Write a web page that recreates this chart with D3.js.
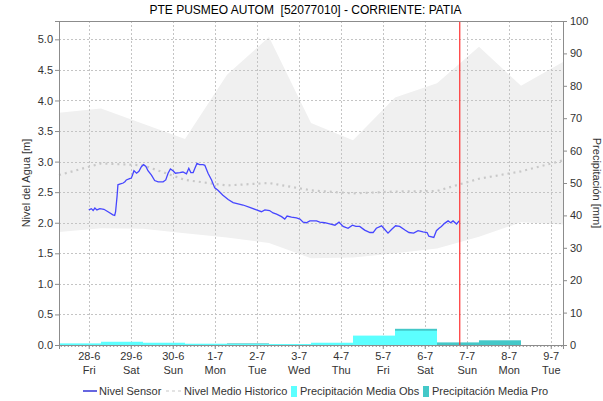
<!DOCTYPE html>
<html>
<head>
<meta charset="utf-8">
<script src="https://cdn.jsdelivr.net/npm/d3@7"></script>
<style>
body { margin: 0; background: #fff; }
svg { font-family: "Liberation Sans", Arial, sans-serif; }
</style>
</head>
<body>
<div id="chart"></div>
<script>
// historico diario (a las 07:00)
var diasHist = ["2024-06-27", "2024-06-28", "2024-06-29", "2024-06-30", "2024-07-01", "2024-07-02",
    "2024-07-03", "2024-07-04", "2024-07-05", "2024-07-06", "2024-07-07", "2024-07-08", "2024-07-09"];
var histMax = [3.80, 3.87, 3.62, 3.37, 4.42, 5.04, 3.63, 3.35, 4.05, 4.28, 4.88, 4.24, 4.63];
var histMin = [1.85, 1.91, 1.90, 1.83, 1.76, 1.67, 1.42, 1.43, 1.50, 1.58, 1.77, 2.01, 1.97];
var histMedio = [2.78, 2.97, 2.94, 2.70, 2.61, 2.65, 2.53, 2.48, 2.51, 2.52, 2.72, 2.84, 3.02];

// precipitacion diaria (07:00 a 07:00), mm
var precipObs = [0.5, 1.0, 0.7, 0.4, 0.3, 0.3, 0.7, 2.9, 4.4, null, null, null];
var precipPro = [null, null, null, null, 0.5, null, null, null, 5.0, 0.8, 1.45, null];

// nivel sensor
var sensorHora = [
    "06-28 00:00", "06-28 01:30", "06-28 02:30", "06-28 03:30", "06-28 04:40", "06-28 06:20",
    "06-28 08:40", "06-28 11:00", "06-28 13:50", "06-28 14:50", "06-28 15:20", "06-28 16:10",
    "06-28 16:40", "06-28 17:40", "06-28 19:40", "06-28 20:40", "06-28 21:30", "06-28 23:20",
    "06-29 00:20", "06-29 01:00", "06-29 01:50", "06-29 03:20", "06-29 04:40", "06-29 06:10",
    "06-29 07:20", "06-29 08:40", "06-29 09:50", "06-29 11:50", "06-29 13:40", "06-29 15:40",
    "06-29 18:30", "06-29 20:00", "06-29 21:20", "06-29 22:40", "06-30 00:10", "06-30 01:30",
    "06-30 04:00", "06-30 05:50", "06-30 07:50", "06-30 09:10", "06-30 10:20", "06-30 11:40",
    "06-30 12:40", "06-30 13:50", "06-30 15:20", "06-30 17:20", "06-30 18:20", "06-30 20:10",
    "06-30 22:10", "07-01 00:00", "07-01 01:50", "07-01 04:40", "07-01 07:40", "07-01 10:30",
    "07-01 13:20", "07-01 16:10", "07-01 20:00", "07-01 23:50", "07-02 02:40", "07-02 04:40",
    "07-02 07:20", "07-02 09:20", "07-02 11:20", "07-02 14:10", "07-02 16:00", "07-02 17:20",
    "07-02 19:50", "07-02 22:40", "07-03 00:40", "07-03 02:30", "07-03 04:20", "07-03 06:20",
    "07-03 10:10", "07-03 12:00", "07-03 14:50", "07-03 17:40", "07-03 20:40", "07-03 23:00",
    "07-04 01:20", "07-04 04:10", "07-04 06:40", "07-04 08:40", "07-04 10:50", "07-04 13:40",
    "07-04 16:40", "07-04 18:30", "07-04 20:20", "07-04 23:20", "07-05 01:10", "07-05 03:00",
    "07-05 05:00", "07-05 07:20", "07-05 09:40", "07-05 12:40", "07-05 15:00", "07-05 17:40",
    "07-05 20:10", "07-05 23:00", "07-06 01:20", "07-06 02:20", "07-06 05:10", "07-06 06:40",
    "07-06 08:10", "07-06 09:30", "07-06 11:20", "07-06 13:20", "07-06 14:50", "07-06 16:10",
    "07-06 18:10", "07-06 19:40"];
var sensorNivel = [
    2.21, 2.23, 2.20, 2.24, 2.21, 2.23,
    2.22, 2.18, 2.13, 2.12, 2.18, 2.43,
    2.62, 2.63, 2.65, 2.67, 2.70, 2.72,
    2.73, 2.78, 2.85, 2.81, 2.84, 2.92,
    2.95, 2.92, 2.85, 2.78, 2.69, 2.67,
    2.67, 2.70, 2.81, 2.88, 2.85, 2.81,
    2.82, 2.83, 2.80, 2.89, 2.82, 2.82,
    2.89, 2.97, 2.95, 2.95, 2.94, 2.81,
    2.70, 2.57, 2.53, 2.45, 2.38, 2.33,
    2.31, 2.29, 2.25, 2.21, 2.18, 2.21,
    2.20, 2.16, 2.14, 2.10, 2.06, 2.11,
    2.09, 2.08, 2.06, 2.01, 2.00, 2.03,
    2.03, 2.01, 2.00, 1.98, 1.96, 2.01,
    1.94, 1.91, 1.96, 1.94, 1.94, 1.88,
    1.84, 1.84, 1.91, 1.95, 1.89, 1.83,
    1.89, 1.95, 1.94, 1.88, 1.84, 1.83,
    1.87, 1.85, 1.84, 1.78, 1.76, 1.87,
    1.91, 1.94, 1.99, 2.03, 2.00, 2.03,
    1.98, 2.03];

var ahora = "2024-07-06 20:00";
var titulo = "PTE PUSMEO AUTOM  [52077010] - CORRIENTE: PATIA";

var width = 603, height = 401;
var margin = {top: 21, right: 40, bottom: 56, left: 59};
var w = width - margin.left - margin.right;
var h = height - margin.top - margin.bottom;

var parseDia = d3.timeParse("%Y-%m-%d %H:%M");
var parseHora = d3.timeParse("%Y-%m-%d %H:%M");

var hist = diasHist.map(function(d, i) {
    return {t: parseDia(d + " 07:00"), max: histMax[i], min: histMin[i], medio: histMedio[i]};
});
var sensor = sensorHora.map(function(d, i) {
    return {t: parseHora("2024-" + d), v: sensorNivel[i]};
});
var precip = precipObs.map(function(d, i) {
    var t0 = parseDia(diasHist[i] + " 07:00");
    return {t0: t0, t1: d3.timeDay.offset(t0, 1), obs: d, pro: precipPro[i]};
});

var svg = d3.select("#chart").append("svg")
    .attr("width", width)
    .attr("height", height);

svg.append("text")
    .attr("x", width / 2 + 4)
    .attr("y", 14)
    .attr("text-anchor", "middle")
    .attr("font-size", 12)
    .style("white-space", "pre")
    .text(titulo);

var g = svg.append("g").attr("transform", "translate(" + margin.left + "," + margin.top + ")");

var x = d3.scaleTime()
    .domain([hist[0].t, hist[hist.length - 1].t])
    .range([0, w]);
var y = d3.scaleLinear().domain([0, 5.3]).range([h, 0]);
var y2 = d3.scaleLinear().domain([0, 100]).range([h, 0]);

// banda historica
g.append("path")
    .datum(hist)
    .attr("fill", "#f0f0f0")
    .attr("d", d3.area()
        .x(function(d) { return x(d.t); })
        .y0(function(d) { return y(d.min); })
        .y1(function(d) { return y(d.max); }));

// grid
var diasTick = d3.timeDay.range(d3.timeDay.ceil(x.domain()[0]), x.domain()[1]);
g.append("g").selectAll("line")
    .data(diasTick)
    .enter().append("line")
    .attr("x1", function(d) { return Math.round(x(d)) + 0.5; })
    .attr("x2", function(d) { return Math.round(x(d)) + 0.5; })
    .attr("y1", 0).attr("y2", h)
    .attr("stroke", "#c4c4c4")
    .attr("stroke-dasharray", "2,2");
g.append("g").selectAll("line")
    .data(d3.range(0.5, 5.3, 0.5))
    .enter().append("line")
    .attr("x1", 0).attr("x2", w)
    .attr("y1", function(d) { return Math.round(y(d)) + 0.5; })
    .attr("y2", function(d) { return Math.round(y(d)) + 0.5; })
    .attr("stroke", "#c4c4c4")
    .attr("stroke-dasharray", "2,2");

// nivel medio historico
g.append("path")
    .datum(hist)
    .attr("fill", "none")
    .attr("stroke", "#c8c8c8")
    .attr("stroke-width", 2.2)
    .attr("stroke-dasharray", "2,4")
    .attr("d", d3.line()
        .x(function(d) { return x(d.t); })
        .y(function(d) { return y(d.medio); }));

// precipitacion
g.append("g").selectAll("rect")
    .data(precip.filter(function(d) { return d.pro != null; }))
    .enter().append("rect")
    .attr("x", function(d) { return x(d.t0); })
    .attr("width", function(d) { return x(d.t1) - x(d.t0); })
    .attr("y", function(d) { return y2(d.pro); })
    .attr("height", function(d) { return h - y2(d.pro); })
    .attr("fill", "#44c8c8");
g.append("g").selectAll("rect")
    .data(precip.filter(function(d) { return d.obs != null; }))
    .enter().append("rect")
    .attr("x", function(d) { return x(d.t0); })
    .attr("width", function(d) { return x(d.t1) - x(d.t0); })
    .attr("y", function(d) { return y2(d.obs); })
    .attr("height", function(d) { return h - y2(d.obs); })
    .attr("fill", "#5cffff");

// nivel sensor
g.append("path")
    .datum(sensor)
    .attr("fill", "none")
    .attr("stroke", "#4646ff")
    .attr("stroke-width", 1.3)
    .attr("d", d3.line()
        .x(function(d) { return x(d.t); })
        .y(function(d) { return y(d.v); }));

// linea de ahora
var xa = x(parseHora(ahora));
g.append("line")
    .attr("x1", xa).attr("x2", xa)
    .attr("y1", 0).attr("y2", h)
    .attr("stroke", "#ff3030")
    .attr("stroke-width", 1.2);

// marco
g.append("rect")
    .attr("x", 0.5).attr("y", 0.5)
    .attr("width", w).attr("height", h)
    .attr("fill", "none")
    .attr("stroke", "#8c8c8c");

// ejes
var axL = g.append("g")
    .call(d3.axisLeft(y).tickValues(d3.range(0, 5.3, 0.5)).tickFormat(d3.format(".1f")).tickSize(4).tickPadding(2));
var axR = g.append("g")
    .attr("transform", "translate(" + w + ",0)")
    .call(d3.axisRight(y2).tickValues(d3.range(0, 101, 10)).tickSize(4).tickPadding(3));
var axB = g.append("g")
    .attr("transform", "translate(0," + h + ")")
    .call(d3.axisBottom(x).tickValues(diasTick).tickSize(4).tickPadding(4).tickFormat(""));
g.append("g")
    .attr("transform", "translate(0," + h + ")")
    .call(d3.axisBottom(x).ticks(d3.timeHour.every(2)).tickSize(2).tickFormat(""))
    .call(function(s) { s.select(".domain").remove(); });

[axL, axR, axB].forEach(function(a) {
    a.select(".domain").attr("stroke", "#8c8c8c");
});
g.selectAll(".tick line").attr("stroke", "#8c8c8c");
g.selectAll(".tick text").attr("fill", "#333").attr("font-size", 11)
    .attr("font-family", "Liberation Sans, Arial, sans-serif");

var fmtDia = d3.timeFormat("%-d-%-m");
var fmtSem = d3.timeFormat("%a");
axB.selectAll(".tick").each(function(d) {
    var t = d3.select(this).append("text")
        .attr("fill", "#333")
        .attr("font-size", 11)
        .attr("text-anchor", "middle")
        .attr("y", 15);
    t.append("tspan").attr("x", 0).text(fmtDia(d));
    t.append("tspan").attr("x", 0).attr("dy", 14).text(fmtSem(d));
});

// titulos de ejes
svg.append("text")
    .attr("transform", "translate(30," + (margin.top + h / 2) + ") rotate(-90)")
    .attr("text-anchor", "middle")
    .attr("font-size", 11)
    .attr("fill", "#333")
    .text("Nivel del Agua [m]");
svg.append("text")
    .attr("transform", "translate(593," + (margin.top + h / 2) + ") rotate(90)")
    .attr("text-anchor", "middle")
    .attr("font-size", 11)
    .attr("fill", "#333")
    .text("Precipitación [mm]");

// leyenda
var ly = 391;
var leg = svg.append("g").attr("font-size", 11).attr("fill", "#333");
leg.append("line").attr("x1", 83).attr("x2", 97).attr("y1", ly).attr("y2", ly)
    .attr("stroke", "#0000cc").attr("stroke-width", 1.2);
leg.append("text").attr("x", 99).attr("y", ly + 4).text("Nivel Sensor");
leg.append("line").attr("x1", 166).attr("x2", 181).attr("y1", ly).attr("y2", ly)
    .attr("stroke", "#c8c8c8").attr("stroke-width", 1.2).attr("stroke-dasharray", "3,3");
leg.append("text").attr("x", 184).attr("y", ly + 4).text("Nivel Medio Historico");
leg.append("rect").attr("x", 291).attr("y", ly - 5).attr("width", 6).attr("height", 11).attr("fill", "#5cffff");
leg.append("text").attr("x", 300).attr("y", ly + 4).text("Precipitación Media Obs");
leg.append("rect").attr("x", 423).attr("y", ly - 5).attr("width", 6).attr("height", 11).attr("fill", "#44c8c8");
leg.append("text").attr("x", 432).attr("y", ly + 4).text("Precipitación Media Pro");
</script>
</body>
</html>
